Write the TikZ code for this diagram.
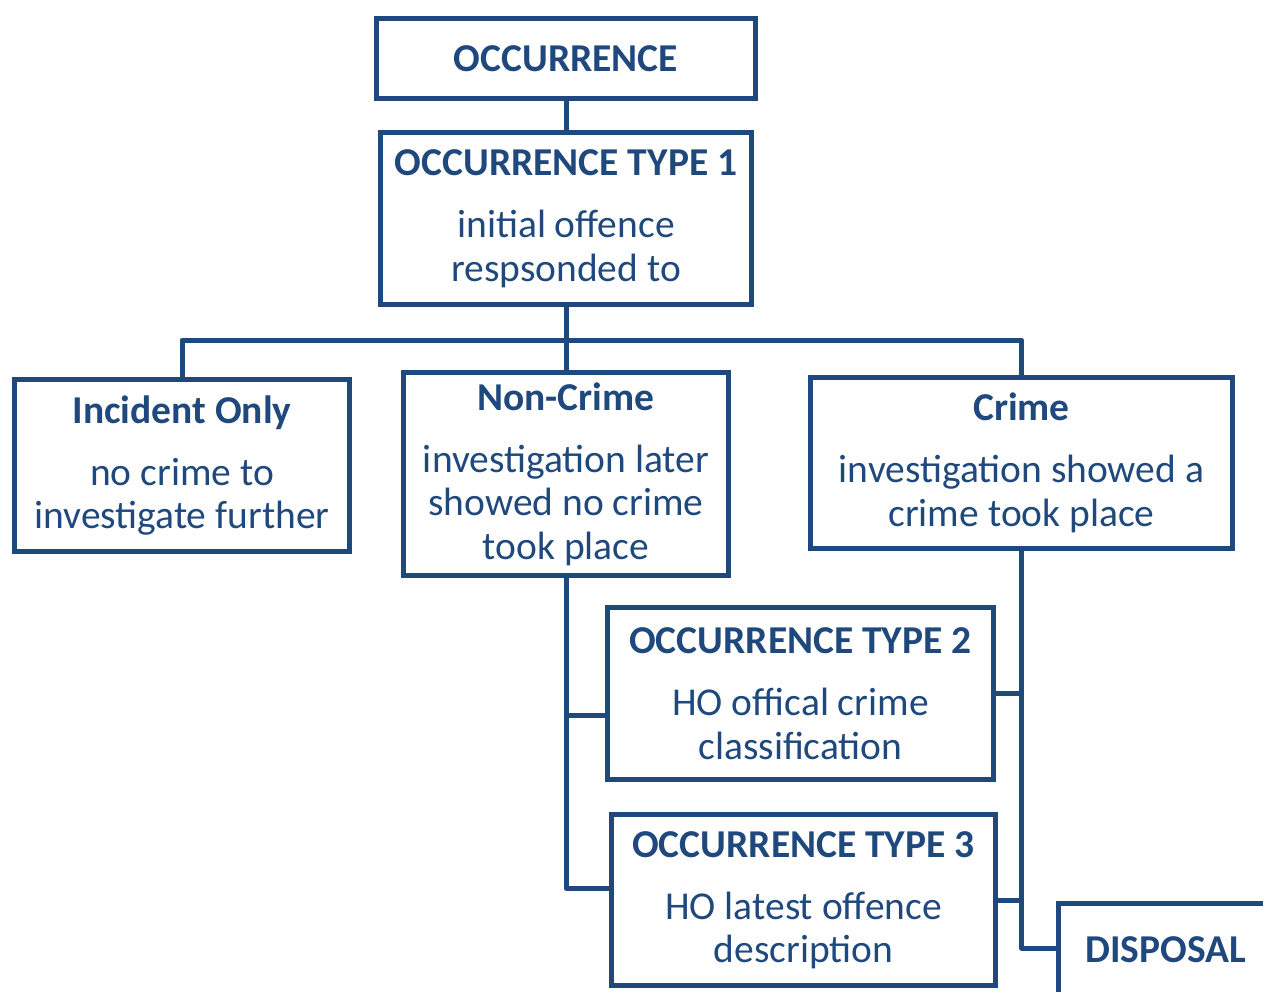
\documentclass[tikz,border=0pt]{standalone}
\usepackage{fontspec}
\setmainfont{Carlito}
\usetikzlibrary{calc}
\definecolor{navy}{RGB}{31,73,125}
\tikzset{
  box/.style={rectangle, draw=navy, line width=5pt, align=center, inner sep=0pt,
    text=navy, font=\fontsize{39.5}{43.5}\selectfont},
  link/.style={draw=navy, line width=5pt, line join=round}
}
\newcommand{\titled}[2]{\textbf{#1}\\[18.5pt]#2}

\begin{document}
\begin{tikzpicture}[x=1pt,y=-1pt]
  \useasboundingbox (0,0) rectangle (1263,991);
  \clip (0,0) rectangle (1263,991);
  % boxes
  \node (occ) at (566,58.5) [box,minimum width=379pt,minimum height=80pt] {\textbf{OCCURRENCE}};
  \node (ot1) at (566,218.5) [box,minimum width=371pt,minimum height=172pt] {\titled{OCCURRENCE TYPE 1}{initial offence\\respsonded to}};
  \node (incident) at (182,465.5) [box,minimum width=335pt,minimum height=172pt] {\titled{Incident Only}{no crime to\\investigate further}};
  \node (noncrime) at (566,474) [box,minimum width=325pt,minimum height=203pt] {\titled{Non-Crime}{investigation later\\showed no crime\\took place}};
  \node (crime) at (1021.5,463) [box,minimum width=422pt,minimum height=171pt] {\titled{Crime}{investigation showed a\\crime took place}};
  \node (ot2) at (800.5,693.5) [box,minimum width=386pt,minimum height=172pt] {\titled{OCCURRENCE TYPE 2}{HO offical crime\\classification}};
  \node (ot3) at (803.5,900) [box,minimum width=384pt,minimum height=171pt] {\titled{OCCURRENCE TYPE 3}{HO latest offence\\description}};
  \node (disp) at (1056,900.5) [box,anchor=north west,minimum width=214pt,text height=59.5pt,text depth=100pt] {\textbf{DISPOSAL}};
  % connection points
  \coordinate (bus) at (566,340);
  \coordinate (t2in) at ([yshift=-22pt]ot2.west);
  \coordinate (t3in) at ([yshift=12pt]ot3.west);
  \coordinate (dispin) at ([yshift=-47.5pt]disp.north west);
  % connectors
  \draw [link] (occ.south) -- (ot1.north);
  \draw [link] (ot1.south) -- (noncrime.north);
  \draw [link] (incident.north) |- (bus) -| (crime.north);
  \draw [link] (noncrime.south) |- (t3in);
  \draw [link] (noncrime.south |- t2in) -- (t2in);
  \draw [link] (crime.south) |- (dispin);
  \draw [link] (ot2.east) -- (ot2.east -| crime.south);
  \draw [link] (ot3.east) -- (ot3.east -| crime.south);
\end{tikzpicture}
\end{document}
